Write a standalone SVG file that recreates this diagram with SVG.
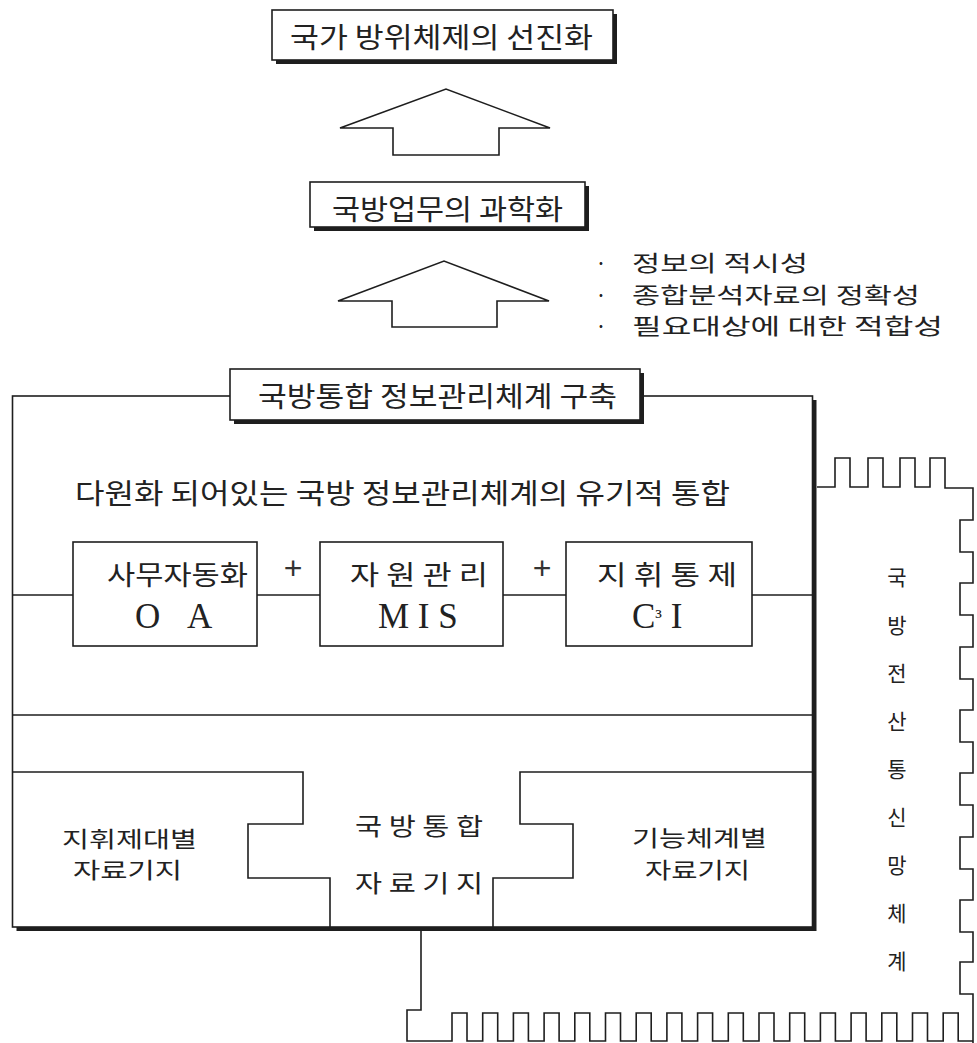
<svg xmlns="http://www.w3.org/2000/svg" width="977" height="1043" viewBox="0 0 977 1043">
<style>
.ln{fill:none;stroke:#1e1e1e;stroke-width:1.6;stroke-linejoin:miter}
.bx{fill:#fff;stroke:#1e1e1e;stroke-width:1.6}
.sh{fill:#1e1e1e}
.kr{font-family:"Noto Sans CJK KR","Noto Sans",sans-serif;fill:#222}
.lt{font-family:"Liberation Serif","Times New Roman",serif;fill:#222}
.pl{font-family:"Liberation Sans",Arial,sans-serif;fill:#333}
</style>
<rect width="977" height="1043" fill="#fff"/>

<g id="goal">
<rect class="sh" x="276" y="14" width="341" height="50"/>
<rect class="bx" x="272" y="10" width="341" height="50"/>
<text class="kr" x="290" y="48" font-size="28" textLength="303" lengthAdjust="spacingAndGlyphs">국가 방위체제의 선진화</text>
</g>

<g id="science">
<rect class="sh" x="314" y="186" width="275" height="45"/>
<rect class="bx" x="310" y="182" width="275" height="45"/>
<text class="kr" x="332" y="220" font-size="28" textLength="231" lengthAdjust="spacingAndGlyphs">국방업무의 과학화</text>
</g>

<g id="benefits">
<text class="kr" x="601" y="271" font-size="21.5" text-anchor="middle">·</text>
<text class="kr" x="632" y="271" font-size="21.5" textLength="176" lengthAdjust="spacingAndGlyphs">정보의 적시성</text>
<text class="kr" x="601" y="302.5" font-size="21.5" text-anchor="middle">·</text>
<text class="kr" x="632" y="302.5" font-size="21.5" textLength="288" lengthAdjust="spacingAndGlyphs">종합분석자료의 정확성</text>
<text class="kr" x="601" y="334" font-size="21.5" text-anchor="middle">·</text>
<text class="kr" x="632" y="334" font-size="21.5" textLength="311" lengthAdjust="spacingAndGlyphs">필요대상에 대한 적합성</text>
</g>

<g id="mainbox">
<rect class="sh" x="16.5" y="400" width="800" height="531"/>
<rect class="bx" x="12.5" y="396" width="800" height="531"/>
<line class="ln" x1="12.5" y1="715" x2="812.5" y2="715"/>
</g>

<g id="title3">
<rect class="sh" x="234" y="373" width="410" height="51"/>
<rect class="bx" x="230" y="369" width="410" height="51"/>
<text class="kr" x="258" y="407" font-size="28" textLength="359" lengthAdjust="spacingAndGlyphs">국방통합 정보관리체계 구축</text>
</g>

<g id="integration">
<text class="kr" x="75" y="504" font-size="28" textLength="655" lengthAdjust="spacingAndGlyphs">다원화 되어있는 국방 정보관리체계의 유기적 통합</text>
</g>

<g id="connectors">
<line class="ln" x1="12.5" y1="595" x2="73" y2="595"/>
<line class="ln" x1="257" y1="595" x2="320" y2="595"/>
<line class="ln" x1="503" y1="595" x2="566" y2="595"/>
<line class="ln" x1="752" y1="595" x2="812.5" y2="595"/>
<path class="ln" d="M340,128 L446,89 L550,128 L499,128 L499,155 L393,155 L393,128 Z"/>
<path class="ln" d="M338,301 L444,261 L549,301 L497,301 L497,327 L392,327 L392,301 Z"/>
<text class="pl" x="293" y="579" font-size="32" text-anchor="middle">+</text>
<text class="pl" x="542" y="579" font-size="32" text-anchor="middle">+</text>
</g>

<g id="oa">
<rect class="bx" x="73" y="542" width="184" height="104"/>
<text class="kr" x="107" y="585" font-size="27" textLength="141" lengthAdjust="spacingAndGlyphs">사무자동화</text>
<text class="lt" x="135" y="628" font-size="35">O <tspan x="187">A</tspan></text>
</g>

<g id="mis">
<rect class="bx" x="320" y="542" width="183" height="104"/>
<text class="kr" x="350" y="585" font-size="27" textLength="138" lengthAdjust="spacingAndGlyphs">자 원 관 리</text>
<text class="lt" x="378" y="628" font-size="35">M I S</text>
</g>

<g id="c3i">
<rect class="bx" x="566" y="542" width="186" height="104"/>
<text class="kr" x="597" y="585" font-size="27" textLength="140" lengthAdjust="spacingAndGlyphs">지 휘 통 제</text>
<text class="lt" x="632" y="628" font-size="35">C<tspan font-size="22" dy="-4">³</tspan><tspan dy="4"> I</tspan></text>
</g>

<g id="db-command">
<path class="ln" d="M12.5,772 H303 V824 H248 V878 H330 V927"/>
<text class="kr" x="62" y="846.5" font-size="22" textLength="135" lengthAdjust="spacingAndGlyphs">지휘제대별</text>
<text class="kr" x="73" y="878" font-size="22" textLength="109" lengthAdjust="spacingAndGlyphs">자료기지</text>
</g>

<g id="db-integrated">
<text class="kr" x="355" y="835" font-size="24" textLength="128" lengthAdjust="spacingAndGlyphs">국 방 통 합</text>
<text class="kr" x="355" y="891.5" font-size="24" textLength="128" lengthAdjust="spacingAndGlyphs">자 료 기 지</text>
</g>

<g id="db-function">
<path class="ln" d="M812.5,772 H520 V824 H573 V878 H493 V927"/>
<text class="kr" x="632" y="846" font-size="22" textLength="135" lengthAdjust="spacingAndGlyphs">기능체계별</text>
<text class="kr" x="645" y="878" font-size="22" textLength="105" lengthAdjust="spacingAndGlyphs">자료기지</text>
</g>

<g id="network">
<path class="ln" d="M817,487 H835 V458 H850 V487 H868 V458 H883 V487 H900 V458 H915 V487 H930 V458 H945 V488 H973 V520 H960 V552 H973 V583 H960 V615 H973 V647 H960 V679 H973 V710 H960 V742 H973 V773 H960 V805 H973 V837 H960 V869 H973 V900 H960 V932 H973 V962 H960 V994 H973 V1043"/>
<path class="ln" d="M421,931 V1010 H407 V1041 H452 V1013 H467 V1041 H482.7 V1013 H497.7 V1041 H513.4 V1013 H528.4 V1041 H544.1 V1013 H559.1 V1041 H574.8 V1013 H589.8 V1041 H605.5 V1013 H620.5 V1041 H636.2 V1013 H651.2 V1041 H666.9 V1013 H681.9 V1041 H697.6 V1013 H712.6 V1041 H728.3 V1013 H743.3 V1041 H759 V1013 H774 V1041 H789.7 V1013 H804.7 V1041 H820.4 V1013 H835.4 V1041 H851.1 V1013 H866.1 V1041 H881.8 V1013 H896.8 V1041 H912.5 V1013 H927.5 V1041 H943.2 V1013 H958.2 V1041 H973"/>
<text class="kr" font-size="21" text-anchor="middle"><tspan x="897" y="585">국</tspan><tspan x="897" y="633">방</tspan><tspan x="897" y="681">전</tspan><tspan x="897" y="729">산</tspan><tspan x="897" y="777">통</tspan><tspan x="897" y="825">신</tspan><tspan x="897" y="873">망</tspan><tspan x="897" y="921">체</tspan><tspan x="897" y="969">계</tspan></text>
</g>
</svg>
